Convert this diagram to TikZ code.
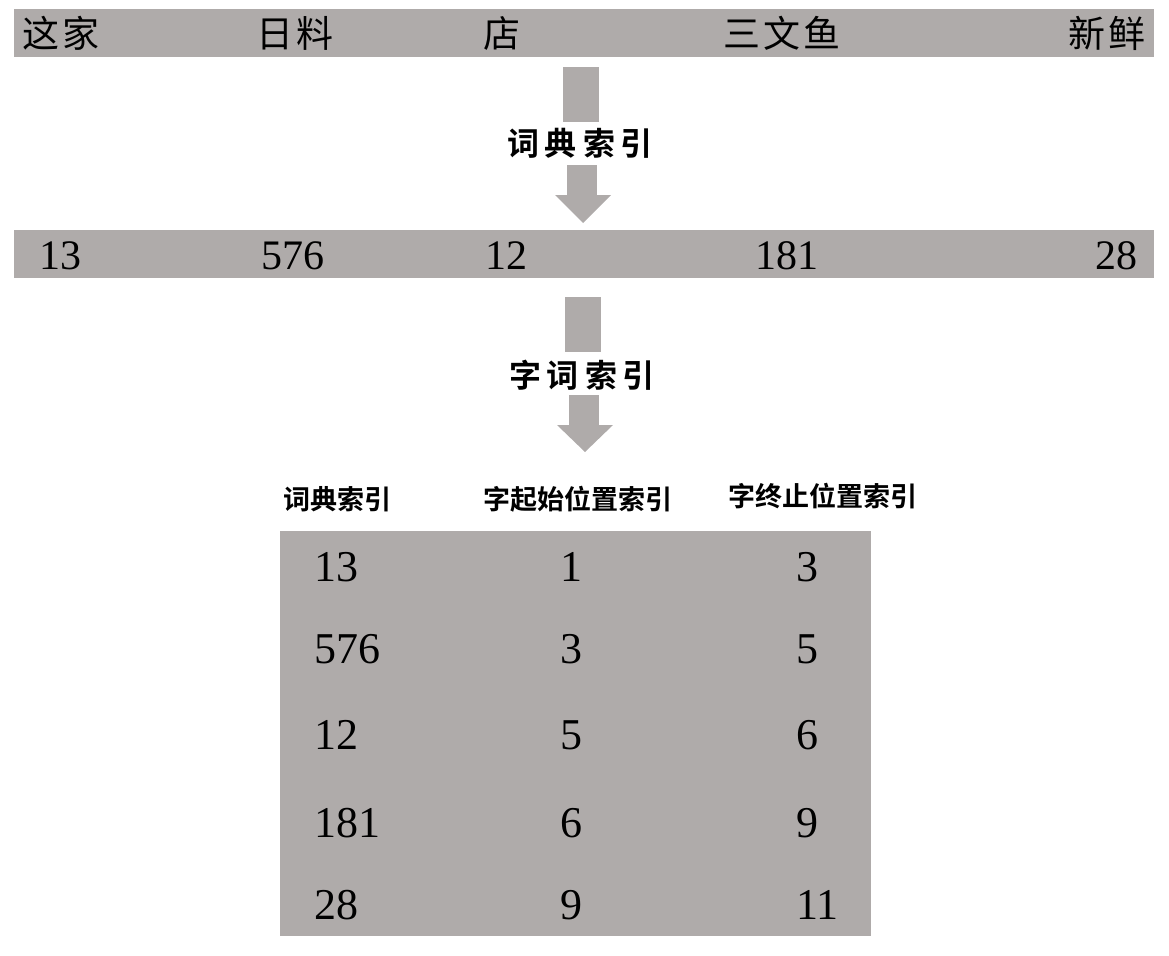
\documentclass[tikz,border=0pt]{standalone}
\usepackage{fontspec}
\newfontfamily\cjk{Noto Sans CJK SC}[BoldFont={* Bold}]
\newfontfamily\numfont{Liberation Serif}
\definecolor{barg}{RGB}{175,171,170}
\tikzset{
  barbox/.style={fill=barg},
  word/.style={inner sep=0pt, font=\cjk\fontsize{37}{40}\selectfont},
  num/.style={inner sep=0pt, font=\numfont\fontsize{42}{46}\selectfont},
  tnum/.style={inner sep=0pt, anchor=west, font=\numfont\fontsize{44}{48}\selectfont},
  steplabel/.style={inner sep=0pt, font=\cjk\bfseries\fontsize{32}{35}\selectfont},
  head/.style={inner sep=0pt, font=\cjk\bfseries\fontsize{27}{30}\selectfont},
}
\newcommand{\gapc}{\hspace{6pt}}
\begin{document}
\begin{tikzpicture}[x=1pt,y=-1pt]
\useasboundingbox (0,0) rectangle (1169,955);
% top bar
\fill[barbox] (14,9) rectangle (1154,57);
\node[word] (w1) at (61,33) {这\hspace{3pt}家};
\node[word] (w2) at (295,33) {日\hspace{3pt}料};
\node[word] (w3) at (502,33) {店};
\node[word] (w4) at (782,33) {三\hspace{3pt}文\hspace{3pt}鱼};
\node[word] (w5) at (1107,33) {新\hspace{3pt}鲜};
% arrow 1
\fill[barbox] (563,67) rectangle (599,122);
\node[steplabel] (l1) at (580,143) {词\gapc 典\gapc 索\gapc 引};
\fill[barbox] (567,165) rectangle (597,196);
\fill[barbox] (555,195) -- (611,195) -- (583,223) -- cycle;
% second bar
\fill[barbox] (14,230) rectangle (1154,278);
\node[num] (n1) at (60,256) {13};
\node[num] (n2) at (293,256) {576};
\node[num] (n3) at (506,256) {12};
\node[num] (n4) at (787,256) {181};
\node[num] (n5) at (1116,256) {28};
% arrow 2
\fill[barbox] (565,297) rectangle (601,352);
\node[steplabel] (l2) at (582,375) {字\gapc 词\gapc 索\gapc 引};
\fill[barbox] (569,395) rectangle (599,426);
\fill[barbox] (557,425) -- (613,425) -- (585,452) -- cycle;
% table headers
\node[head] (h1) at (337,499) {词典索引};
\node[head] (h2) at (578,499) {字起始位置索引};
\node[head] (h3) at (823,496) {字终止位置索引};
% table
\fill[barbox] (280,531) rectangle (871,936);
\foreach \y/\a/\b/\c [count=\i] in {567/13/1/3, 649/576/3/5, 735/12/5/6, 823/181/6/9, 905/28/9/11}{
  \node[tnum] (r\i a) at (314,\y) {\a};
  \node[tnum] (r\i b) at (560,\y) {\b};
  \node[tnum] (r\i c) at (796,\y) {\c};
}
\end{tikzpicture}
\end{document}
